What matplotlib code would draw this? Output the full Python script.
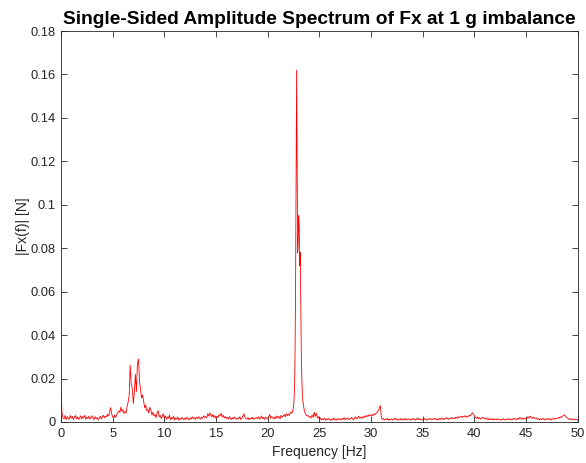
import numpy as np
import matplotlib
matplotlib.use("Agg")
import matplotlib.pyplot as plt
from matplotlib.ticker import FuncFormatter

# Amplitude values (|Fx(f)| in N)
# 0.0 .. 22.3 Hz, 0.1 Hz step
amp_lo = [
    0.016, 0.004, 0.002, 0.0015, 0.003, 0.001, 0.0025, 0.002, 0.0012, 0.003,
    0.0018, 0.0026, 0.001, 0.0022, 0.003, 0.0015, 0.0024, 0.0011, 0.002, 0.0028,
    0.0014, 0.0025, 0.0019, 0.0031, 0.0012, 0.0022, 0.0016, 0.0027, 0.0013, 0.0021,
    0.0029, 0.0017, 0.0011, 0.0024, 0.0015, 0.0021, 0.0009, 0.0018, 0.0026, 0.0014,
    0.0022, 0.0031, 0.0019, 0.0027, 0.0024, 0.0035, 0.0028, 0.0045, 0.0066, 0.0038,
    0.0025, 0.0018, 0.0032, 0.0021, 0.0036, 0.0042, 0.0051, 0.0044, 0.0068, 0.0049,
    0.0057, 0.0039, 0.0048, 0.0041, 0.0072, 0.0092, 0.0120, 0.0262, 0.0175, 0.0155,
    0.0085, 0.0135, 0.0220, 0.0140, 0.0270, 0.0290, 0.0190, 0.0150, 0.0110, 0.0125,
    0.0095, 0.0065, 0.0078, 0.0052, 0.0058, 0.0041, 0.0068, 0.0055, 0.0032, 0.0045,
    0.0028, 0.0035, 0.0019, 0.0042, 0.0052, 0.0024, 0.0031, 0.0015, 0.0026, 0.0038,
    0.0018, 0.0029, 0.0012, 0.0024, 0.0017, 0.0032, 0.0011, 0.0021, 0.0014, 0.0026,
    0.0009, 0.0019, 0.0013, 0.0023, 0.0008, 0.0017, 0.0012, 0.0021, 0.0015, 0.0010,
    0.0018, 0.0011, 0.0022, 0.0014, 0.0009, 0.0019, 0.0013, 0.0024, 0.0016, 0.0020,
    0.0012, 0.0021, 0.0015, 0.0025, 0.0018, 0.0013, 0.0022, 0.0017, 0.0028, 0.0021,
    0.0025, 0.0019, 0.0038, 0.0027, 0.0042, 0.0031, 0.0024, 0.0035, 0.0020, 0.0029,
    0.0017, 0.0026, 0.0021, 0.0033, 0.0028, 0.0040, 0.0023, 0.0031, 0.0019, 0.0025,
    0.0016, 0.0022, 0.0013, 0.0025, 0.0018, 0.0011, 0.0020, 0.0014, 0.0023, 0.0017,
    0.0012, 0.0019, 0.0015, 0.0024, 0.0011, 0.0018, 0.0027, 0.0038, 0.0021, 0.0016,
    0.0013, 0.0020, 0.0010, 0.0017, 0.0014, 0.0022, 0.0012, 0.0018, 0.0015, 0.0021,
    0.0016, 0.0024, 0.0013, 0.0019, 0.0028, 0.0015, 0.0021, 0.0012, 0.0023, 0.0018,
    0.0014, 0.0022, 0.0035, 0.0017, 0.0025, 0.0019, 0.0013, 0.0024, 0.0016, 0.0028,
    0.0019, 0.0026, 0.0015, 0.0031, 0.0022, 0.0027, 0.0034, 0.0024, 0.0038, 0.0029,
    0.0036, 0.0030, 0.0045, 0.0040,
]
# 22.35 .. 23.70 Hz, 0.05 Hz step (main peak)
amp_pk = [
    0.0042, 0.0050, 0.0058, 0.0075, 0.0100, 0.0160, 0.0320, 0.0650, 0.1100, 0.1620,
    0.1150, 0.0780, 0.0820, 0.0950, 0.0900, 0.0720, 0.0780, 0.0550, 0.0320, 0.0200,
    0.0135, 0.0100, 0.0080, 0.0065, 0.0052, 0.0045, 0.0038, 0.0032,
]
# 23.8 .. 50.0 Hz, 0.1 Hz step
amp_hi = [
    0.0028, 0.0030,
    0.0022, 0.0025, 0.0018, 0.0032, 0.0021, 0.0045, 0.0026, 0.0041, 0.0019, 0.0024,
    0.0013, 0.0018, 0.0009, 0.0015, 0.0011, 0.0017, 0.0008, 0.0014, 0.0010, 0.0016,
    0.0012, 0.0007, 0.0015, 0.0010, 0.0018, 0.0009, 0.0013, 0.0008, 0.0016, 0.0011,
    0.0014, 0.0009, 0.0017, 0.0012, 0.0020, 0.0010, 0.0015, 0.0019, 0.0011, 0.0016,
    0.0013, 0.0021, 0.0015, 0.0010, 0.0018, 0.0024, 0.0014, 0.0019, 0.0027, 0.0017,
    0.0022, 0.0016, 0.0025, 0.0019, 0.0028, 0.0023, 0.0030, 0.0026, 0.0033, 0.0029,
    0.0031, 0.0035, 0.0028, 0.0038, 0.0034, 0.0041, 0.0045, 0.0052, 0.0062, 0.0076,
    0.0018, 0.0012, 0.0016, 0.0009, 0.0014, 0.0011, 0.0017, 0.0008, 0.0013, 0.0010,
    0.0015, 0.0009, 0.0012, 0.0018, 0.0011, 0.0014, 0.0008, 0.0013, 0.0010, 0.0016,
    0.0009, 0.0014, 0.0011, 0.0017, 0.0008, 0.0012, 0.0015, 0.0010, 0.0013, 0.0009,
    0.0016, 0.0011, 0.0014, 0.0008, 0.0013, 0.0019, 0.0010, 0.0015, 0.0012, 0.0009,
    0.0013, 0.0010, 0.0016, 0.0012, 0.0008, 0.0014, 0.0011, 0.0017, 0.0013, 0.0010,
    0.0015, 0.0012, 0.0018, 0.0011, 0.0014, 0.0009, 0.0016, 0.0012, 0.0019, 0.0014,
    0.0011, 0.0017, 0.0013, 0.0020, 0.0015, 0.0012, 0.0018, 0.0014, 0.0021, 0.0016,
    0.0019, 0.0015, 0.0022, 0.0017, 0.0025, 0.0019, 0.0023, 0.0027, 0.0021, 0.0026,
    0.0024, 0.0029, 0.0022, 0.0027, 0.0025, 0.0031, 0.0028, 0.0034, 0.0043, 0.0036,
    0.0028, 0.0021, 0.0017, 0.0024, 0.0015, 0.0020, 0.0013, 0.0018, 0.0022, 0.0016,
    0.0014, 0.0019, 0.0012, 0.0017, 0.0010, 0.0015, 0.0011, 0.0016, 0.0009, 0.0013,
    0.0011, 0.0015, 0.0009, 0.0014, 0.0012, 0.0008, 0.0013, 0.0010, 0.0015, 0.0011,
    0.0009, 0.0013, 0.0010, 0.0016, 0.0012, 0.0008, 0.0014, 0.0011, 0.0017, 0.0013,
    0.0015, 0.0011, 0.0018, 0.0013, 0.0021, 0.0016, 0.0012, 0.0019, 0.0014, 0.0017,
    0.0013, 0.0020, 0.0024, 0.0017, 0.0027, 0.0021, 0.0016, 0.0023, 0.0019, 0.0015,
    0.0018, 0.0012, 0.0016, 0.0010, 0.0014, 0.0011, 0.0017, 0.0013, 0.0009, 0.0015,
    0.0012, 0.0017, 0.0011, 0.0015, 0.0009, 0.0014, 0.0012, 0.0018, 0.0013, 0.0016,
    0.0015, 0.0021, 0.0017, 0.0024, 0.0020, 0.0026, 0.0029, 0.0033, 0.0027, 0.0022,
    0.0018, 0.0014, 0.0011, 0.0016, 0.0012, 0.0009, 0.0014, 0.0010, 0.0013, 0.0011,
    0.0008,
]

f_lo = np.arange(len(amp_lo)) * 0.1
f_pk = 22.35 + np.arange(len(amp_pk)) * 0.05
f_hi = 23.8 + np.arange(len(amp_hi)) * 0.1
freq = np.concatenate([f_lo, f_pk, f_hi])
amp = np.concatenate([amp_lo, amp_pk, amp_hi])

xticks = [0, 5, 10, 15, 20, 25, 30, 35, 40, 45, 50]
yticks = [0, 0.02, 0.04, 0.06, 0.08, 0.1, 0.12, 0.14, 0.16, 0.18]

plt.rcParams['font.family'] = ['Liberation Sans', 'DejaVu Sans']
axc = '#262626'

fig = plt.figure(figsize=(5.86, 4.63), dpi=100)
ax = fig.add_axes([0.104, 0.0886, 0.882, 0.8444])
ax.plot(freq, amp, color='#ff0000', linewidth=0.6)

ax.set_xlim(0, 50)
ax.set_ylim(0, 0.18)
ax.set_xticks(xticks)
ax.set_yticks(yticks)
ax.yaxis.set_major_formatter(FuncFormatter(lambda v, p: ('%g' % round(v, 4))))
ax.tick_params(direction='in', top=True, right=True, length=4, width=0.6,
               colors=axc, labelsize=9.3, labelcolor=axc, pad=4)
for s in ax.spines.values():
    s.set_color(axc)
    s.set_linewidth(0.6)

ax.set_xlabel('Frequency [Hz]', fontsize=10, color=axc, labelpad=4)
ax.set_ylabel('|Fx(f)| [N]', fontsize=10, color=axc, labelpad=0)
ax.set_title('Single-Sided Amplitude Spectrum of Fx at 1 g imbalance',
             fontsize=13.8, fontweight='bold', color='black', pad=5)

fig.savefig('out.png', dpi=100)
